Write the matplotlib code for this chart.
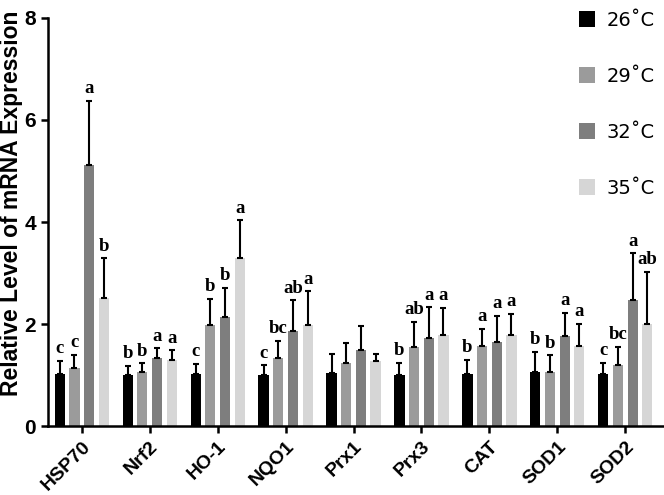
import numpy as np
import matplotlib
matplotlib.use("Agg")
import matplotlib.pyplot as plt
from matplotlib.patches import Patch

genes = ["HSP70", "Nrf2", "HO-1", "NQO1", "Prx1", "Prx3", "CAT", "SOD1", "SOD2"]
temps = ["26˚C", "29˚C", "32˚C", "35˚C"]

mean_26 = [1.02, 1.00, 1.02, 1.01, 1.04, 1.01, 1.03, 1.06, 1.02]
mean_29 = [1.14, 1.07, 1.99, 1.33, 1.23, 1.56, 1.57, 1.06, 1.20]
mean_32 = [5.12, 1.33, 2.13, 1.86, 1.50, 1.73, 1.65, 1.76, 2.47]
mean_35 = [2.51, 1.29, 3.30, 1.99, 1.27, 1.78, 1.78, 1.58, 2.00]

sd_26 = [0.26, 0.18, 0.20, 0.18, 0.38, 0.23, 0.27, 0.40, 0.22]
sd_29 = [0.26, 0.16, 0.51, 0.34, 0.40, 0.48, 0.34, 0.33, 0.35]
sd_32 = [1.26, 0.20, 0.58, 0.61, 0.46, 0.60, 0.51, 0.46, 0.92]
sd_35 = [0.78, 0.20, 0.73, 0.65, 0.15, 0.54, 0.42, 0.43, 1.02]

letters_26 = ["c", "b", "c", "c", "", "b", "b", "b", "c"]
letters_29 = ["c", "b", "b", "bc", "", "ab", "a", "b", "bc"]
letters_32 = ["a", "a", "b", "ab", "", "a", "a", "a", "a"]
letters_35 = ["b", "a", "a", "a", "", "a", "a", "a", "ab"]

colors = ["#000000", "#9b9b9b", "#7e7e7e", "#d6d6d6"]

means = [mean_26, mean_29, mean_32, mean_35]
sds = [sd_26, sd_29, sd_32, sd_35]
letters = [letters_26, letters_29, letters_32, letters_35]

fig = plt.figure(figsize=(6.64, 4.95), dpi=100)
ax = fig.add_axes([0.072, 0.139, 0.926, 0.825])

x = np.arange(len(genes))
step = 0.216
width = 0.15

for i in range(4):
    pos = x + (i - 1.5) * step
    ax.bar(pos, means[i], width, color=colors[i], zorder=2)
    ax.errorbar(pos, means[i], yerr=[np.zeros(len(genes)), sds[i]], fmt="none",
                ecolor="black", elinewidth=1.5, capsize=2.5, capthick=1.5, zorder=3)
    for p, m, s, t in zip(pos, means[i], sds[i], letters[i]):
        if t:
            ax.text(p, m + s + 0.07, t, ha="center", va="bottom",
                    fontsize=13.5, fontweight="bold", family="Liberation Serif")

ax.set_xlim(-0.5, 8.55)
ax.set_ylim(0, 8)
ax.set_yticks([0, 2, 4, 6, 8])
ax.set_xticks(x)
ax.set_xticklabels(genes, rotation=45, ha="right", rotation_mode="anchor",
                   fontsize=14, fontweight="bold", family="Liberation Sans")
for lab in ax.get_yticklabels():
    lab.set_fontsize(15)
    lab.set_fontweight("bold")
    lab.set_family("Liberation Sans")

ax.set_ylabel("Relative Level of mRNA Expression", fontsize=16.5, fontweight="bold",
              family="Liberation Sans")
ax.yaxis.set_label_coords(-0.041, 0.545)

for side in ["top", "right"]:
    ax.spines[side].set_visible(False)
ax.spines["left"].set_linewidth(1.8)
ax.spines["bottom"].set_linewidth(1.8)
ax.tick_params(axis="both", width=1.8, length=5)

handles = [Patch(facecolor=c, edgecolor="none") for c in colors]
leg = ax.legend(handles, temps, loc="upper right", bbox_to_anchor=(1.015, 1.06),
                frameon=False, handlelength=0.85, handleheight=0.85,
                labelspacing=1.9, handletextpad=0.55,
                prop={"family": "DejaVu Sans", "size": 14})

fig.savefig("out.png", dpi=100)
